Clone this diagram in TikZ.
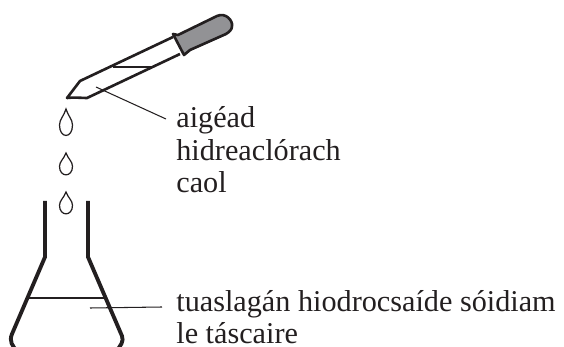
\documentclass[tikz,border=0pt]{standalone}
\usepackage{fontspec}
\setmainfont{Liberation Serif}
\usepackage{tikz}
\usetikzlibrary{positioning}
\definecolor{bulbgray}{RGB}{146,146,149}
\definecolor{inkblack}{RGB}{35,31,32}

\begin{document}
\begin{tikzpicture}[
        x=0.02cm,y=-0.02cm,
        glass/.style={draw=inkblack,line width=1.5pt,line join=round},
        flaskwall/.style={draw=inkblack,line width=2.2pt,line join=round},
        thinline/.style={draw=inkblack,line width=0.6pt},
        droplet/.style={draw=inkblack,line width=0.7pt},
        labeltext/.style={inner sep=0pt,anchor=base west,text=inkblack,font=\fontsize{17.2}{18}\selectfont}
      ]
        \useasboundingbox (0,0) rectangle (564,347);

        % dropper
        \fill[bulbgray] (173,34) -- (178,35) -- (217,16) .. controls (226,12) and (233,21) .. (232,26) .. controls (232,30) and (229,32) .. (226,34) -- (190,50) -- (184,55) -- cycle;
        \draw[glass] (173,34) -- (178,35) -- (217,16) .. controls (226,12) and (233,21) .. (232,26) .. controls (232,30) and (229,32) .. (226,34) -- (190,50) -- (184,55) -- cycle;
        \draw[glass] (173,37) -- (80,81) -- (67,98) .. controls (73,97) and (81,98) .. (87,98) -- (180,54);
        \draw[thinline] (113,67) -- (153,67);

        % drops
        \foreach \y/\h in {109/23,153/19,192/19}{
          \draw[droplet] (66,\y) .. controls (64,\y+0.3*\h) and (59.5,\y+0.45*\h) .. (59.5,\y+0.7*\h) .. controls (59.5,\y+1.3*\h) and (72.5,\y+1.3*\h) .. (72.5,\y+0.7*\h) .. controls (72.5,\y+0.45*\h) and (68,\y+0.3*\h) .. (66,\y) -- cycle;
        }

        % flask
        \begin{scope}
          \clip (0,190) rectangle (200,347);
          \draw[flaskwall] (45,201) -- (45,257) -- (12,334) .. controls (9,341) and (12,346) .. (18,352);
          \draw[flaskwall] (88,201) -- (88,257) -- (122,336) .. controls (124,341) and (121,346) .. (115,352);
        \end{scope}
        \draw[thinline] (29,298) -- (105,298);

        % labels
        \node[labeltext] (acid1) at (176,128) {aigéad};
        \node[labeltext] (acid2) at (176,161) {hidreaclórach};
        \node[labeltext] (acid3) at (176,193) {caol};
        \node[labeltext] (soln1) at (176,312) {tuaslagán hiodrocsaíde sóidiam};
        \node[labeltext] (soln2) at (176,343) {le táscaire};

        % leader lines
        \coordinate (acidend) at (96,87);
        \coordinate (solnend) at (90,308);
        \draw[thinline] (acidend) -- (166,119);
        \draw[thinline] (solnend) -- (162,307);
      \end{tikzpicture}
\end{document}
